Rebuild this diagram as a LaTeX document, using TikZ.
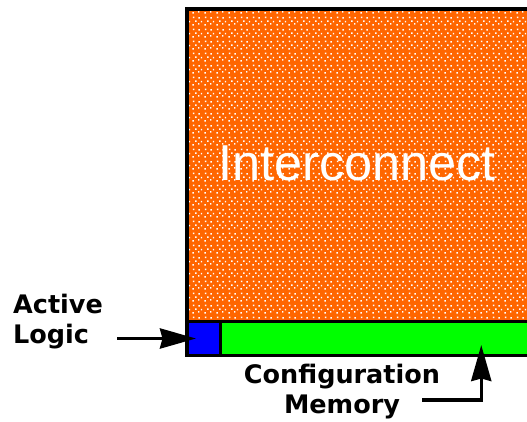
\documentclass[tikz,border=0pt]{standalone}
\usepackage{fontspec}
\setmainfont{Liberation Sans}
\newfontfamily\lblfont{DejaVu Sans}
\usetikzlibrary{arrows.meta,patterns.meta}

% white speckle used on the interconnect area
\tikzdeclarepattern{
  name=speckle,
  type=uncolored,
  bounding box={(0pt,0pt) and (12pt,12pt)},
  tile size={(12pt,12pt)},
  code={
    \fill (0.5pt,0.5pt) rectangle ++(1.5pt,1.5pt);
    \fill (6.5pt,1.5pt) rectangle ++(1.5pt,1.5pt);
    \fill (3.5pt,4.5pt) rectangle ++(1.5pt,1.5pt);
    \fill (9.5pt,4pt) rectangle ++(1.5pt,1.5pt);
    \fill (1pt,8.5pt) rectangle ++(1.5pt,1.5pt);
    \fill (7pt,8pt) rectangle ++(1.5pt,1.5pt);
  }
}

\definecolor{interorange}{RGB}{255,102,0}
\definecolor{logicblue}{RGB}{0,0,255}
\definecolor{memgreen}{RGB}{0,255,0}

\tikzset{
  block/.style={draw=black, line width=3.5pt, inner sep=0pt, outer sep=0pt,
    anchor=south west},
  label/.style={font=\lblfont\bfseries\fontsize{25.5}{29.5}\selectfont, inner sep=0pt},
  pointer/.style={line width=3.5pt, -{Stealth[length=36pt,width=20pt,inset=2.5pt]}},
}

\begin{document}
\begin{tikzpicture}[x=1pt,y=1pt]
  \useasboundingbox (0,0) rectangle (527,421);
  \clip (0,0) rectangle (527,421);

  % the three regions of the tile
  \node[block, minimum width=353pt, minimum height=312.5pt,
        preaction={fill=interorange}, pattern=speckle, pattern color=white]
        (inter) at (187,99.5) {};
  \node[block, fill=logicblue, minimum width=33.5pt, minimum height=34pt]
        (logic) at (187,65.5) {};
  \node[block, fill=memgreen, minimum width=319.5pt, minimum height=34pt]
        (config) at (220.5,65.5) {};

  \node[text=white, font=\fontsize{50.5}{56}\selectfont, inner sep=0pt]
        (intertext) at (357,257.5) {Interconnect};

  % labels (base anchor sits on the last line)
  \node[label, align=left, anchor=base west] (logiclbl) at (13,78)
        {Active\\Logic};
  \node[label, align=center, anchor=base] (configlbl) at (342,8)
        {Configuration\\Memory};

  % pointers
  \coordinate (logictail) at (117,82.5);
  \draw[pointer] (logictail) -- ([xshift=9pt]logic.west);
  \coordinate (configtail) at (422,21);
  \draw[pointer] (configtail) -| ([xshift=101pt,yshift=10.5pt]config.south);
\end{tikzpicture}
\end{document}
